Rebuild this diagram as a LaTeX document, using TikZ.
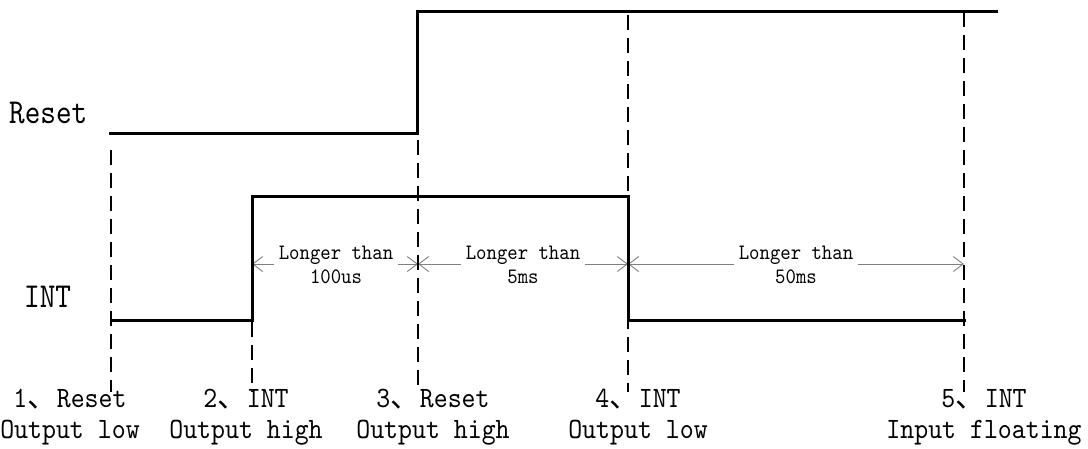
\documentclass[tikz,border=0pt]{standalone}
\usepackage{fontspec}
\newfontfamily\cjk{Noto Sans CJK SC}
\newfontfamily\monoA{lmmono10-regular}[Extension=.otf, FakeStretch=0.85]
\newfontfamily\monoB{lmmono10-regular}[Extension=.otf, FakeStretch=0.9]
\usetikzlibrary{arrows.meta}
\begin{document}
\begin{tikzpicture}[x=1pt,y=-1pt,
  sig/.style={line width=3pt, line join=miter, line cap=rect},
  guide/.style={line width=2pt, dash pattern=on 15pt off 8pt},
  span/.style={draw=gray, line width=0.9pt, {Straight Barb[length=10pt,width=15pt]}-{Straight Barb[length=10pt,width=15pt]}},
  boxlab/.style={fill=white, font=\fontsize{22}{24}\monoB, align=center, inner xsep=5pt, inner ysep=2pt},
  siglab/.style={font=\fontsize{35}{38}\monoA, anchor=west, inner sep=0pt},
  evlab/.style={font=\fontsize{29.5}{31}\monoB, align=center, inner sep=0pt}]
\useasboundingbox (0,0) rectangle (1088,448);
% signal corners
\coordinate (r0) at (110,133);
\coordinate (r1) at (417,133);
\coordinate (r2) at (417,11);
\coordinate (r3) at (996,11);
\coordinate (i0) at (111,320);
\coordinate (i1) at (252,320);
\coordinate (i2) at (252,196);
\coordinate (i3) at (628,196);
\coordinate (i4) at (628,320);
\coordinate (i5) at (964,320);
% guide ends
\coordinate (g1t) at (111,150); \coordinate (g1b) at (111,392);
\coordinate (g2t) at (252,322); \coordinate (g2b) at (252,392);
\coordinate (g3t) at (418,140); \coordinate (g3b) at (418,392);
\coordinate (g4t) at (628,15);  \coordinate (g4b) at (628,392);
\coordinate (g5t) at (964,12);  \coordinate (g5b) at (964,392);
% span ends
\coordinate (a1) at (252,264);
\coordinate (a2) at (418,264);
\coordinate (a3) at (628,264);
\coordinate (a4) at (964,264);
% spans
\draw[span] (a1) -- (a2);
\draw[span] (a2) -- (a3);
\draw[span] (a3) -- (a4);
\node[boxlab] (s1) at (336,265) {Longer than\\100us};
\node[boxlab] (s2) at (523,265) {Longer than\\5ms};
\node[boxlab] (s3) at (796,265) {Longer than\\50ms};
% guides
\draw[guide] (g1t) -- (g1b);
\draw[guide] (g2t) -- (g2b);
\draw[guide] (g3t) -- (g3b);
\draw[guide] (g4t) -- (g4b);
\draw[guide] (g5t) -- (g5b);
% signals
\draw[sig] (r0) -- (r1) -- (r2) -- (r3);
\draw[sig] (i0) -- (i1) -- (i2) -- (i3) -- (i4) -- (i5);
% labels
\node[siglab] (reset) at (9,113) {Reset};
\node[siglab] (int) at (24,297) {INT};
\node[evlab] (e1) at (70,417) {1{\cjk 、}Reset\\Output low};
\node[evlab] (e2) at (246,417) {2{\cjk 、}INT\\Output high};
\node[evlab] (e3) at (433,417) {3{\cjk 、}Reset\\Output high};
\node[evlab] (e4) at (638,417) {4{\cjk 、}INT\\Output low};
\node[evlab] (e5) at (984,417) {5{\cjk 、}INT\\Input floating};
\end{tikzpicture}
\end{document}
